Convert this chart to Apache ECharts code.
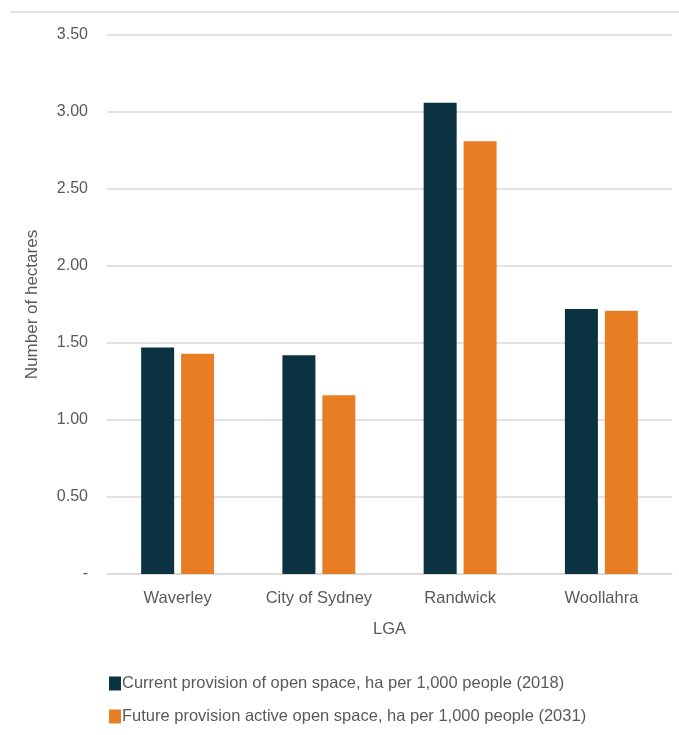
<!DOCTYPE html>
<html><head><meta charset="utf-8">
<script src="https://cdn.jsdelivr.net/npm/echarts@6/dist/echarts.min.js"></script>
<style>html,body{margin:0;padding:0;background:#fff}#c{width:679px;height:735px}</style>
</head><body><div id="c"></div>
<script>
var categories = ['Waverley', 'City of Sydney', 'Randwick', 'Woollahra'];
var seriesNames = ['Current provision of open space, ha per 1,000 people (2018)', 'Future provision active open space, ha per 1,000 people (2031)'];
var currentValues = [1.47, 1.42, 3.06, 1.72];
var futureValues = [1.43, 1.16, 2.81, 1.71];
var yTicks = { min: 0, max: 3.5, interval: 0.5 };

var font = '"Liberation Sans Narrow", "Liberation Sans", Arial, sans-serif';
var txt = '#595959';
var chart = echarts.init(document.getElementById('c'), null, { renderer: 'canvas' });
chart.setOption({
  animation: false,
  textStyle: { fontFamily: font },
  graphic: [{ type: 'line', shape: { x1: 10, y1: 12, x2: 679, y2: 12 }, style: { stroke: '#d9d9d9', lineWidth: 1.5 } }],
  grid: { left: 107, right: 7, top: 35, bottom: 161, containLabel: false },
  legend: {
    orient: 'vertical', left: 104, top: 670, itemGap: 16,
    itemWidth: 12, itemHeight: 14, icon: 'rect',
    textStyle: { fontFamily: font, fontSize: 16.5, color: txt, padding: [0, 0, 0, -4] },
    data: seriesNames
  },
  xAxis: {
    type: 'category', data: categories,
    name: 'LGA', nameLocation: 'middle', nameGap: 47,
    nameTextStyle: { fontFamily: font, fontSize: 16.5, color: txt },
    axisLine: { show: true, lineStyle: { color: '#d9d9d9', width: 1.5 } },
    axisTick: { show: false },
    axisLabel: { fontFamily: font, fontSize: 16.5, color: txt, margin: 16 }
  },
  yAxis: {
    type: 'value', min: yTicks.min, max: yTicks.max, interval: yTicks.interval,
    name: 'Number of hectares', nameLocation: 'middle', nameGap: 66,
    nameTextStyle: { fontFamily: font, fontSize: 17, color: txt },
    axisLine: { show: false }, axisTick: { show: false },
    axisLabel: { fontFamily: font, fontSize: 16, color: txt, margin: 19,
      formatter: function (v) { return v === 0 ? '-' : v.toFixed(2); } },
    splitLine: { lineStyle: { color: '#d9d9d9', width: 1.5 } }
  },
  series: [
    { name: seriesNames[0], type: 'bar', data: currentValues, barWidth: 33, barGap: '21%',
      itemStyle: { color: '#0a3240' } },
    { name: seriesNames[1], type: 'bar', data: futureValues, barWidth: 33,
      itemStyle: { color: '#e87e24' } }
  ]
});
</script></body></html>
